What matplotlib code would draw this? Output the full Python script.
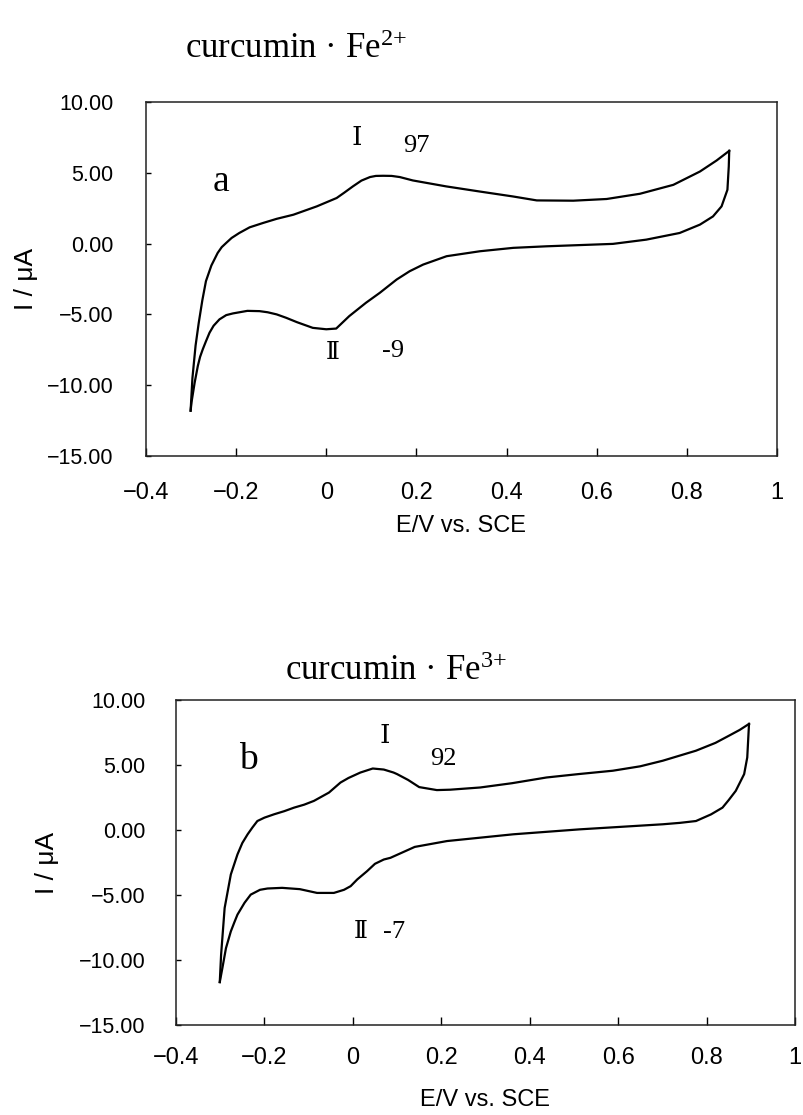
import matplotlib
matplotlib.use("Agg")
import matplotlib.pyplot as plt

plt.rcParams["mathtext.fontset"] = "custom"
plt.rcParams["mathtext.rm"] = "Liberation Serif"
plt.rcParams["mathtext.default"] = "rm"

# ---- cyclic voltammograms (E in V vs. SCE, I in uA) ----
# (a) curcumin-Fe2+ : forward (anodic) sweep then return sweep
a_fwd_E = [-0.301, -0.297, -0.290, -0.283, -0.275, -0.267, -0.255, -0.241, -0.232,
           -0.222, -0.210, -0.193, -0.170, -0.140, -0.110, -0.073, -0.021, 0.023,
           0.040, 0.059, 0.078, 0.097, 0.110, 0.126, 0.145, 0.163, 0.192, 0.266,
           0.340, 0.414, 0.467, 0.548, 0.622, 0.696, 0.770, 0.829, 0.866, 0.894]
a_fwd_I = [-11.8, -9.5, -7.2, -5.6, -4.0, -2.65, -1.55, -0.66, -0.25,
           0.05, 0.40, 0.75, 1.15, 1.46, 1.75, 2.04, 2.63, 3.22,
           3.60, 4.04, 4.45, 4.70, 4.78, 4.79, 4.78, 4.70, 4.46, 4.04,
           3.68, 3.33, 3.05, 3.03, 3.15, 3.52, 4.15, 5.09, 5.87, 6.55]
a_rev_E = [0.894, 0.893, 0.890, 0.877, 0.858, 0.829, 0.784, 0.710, 0.636, 0.489,
           0.415, 0.341, 0.267, 0.215, 0.185, 0.156, 0.119, 0.088, 0.051, 0.022,
           0.000, -0.030, -0.065, -0.089, -0.110, -0.130, -0.148, -0.175, -0.207,
           -0.222, -0.237, -0.250, -0.259, -0.267, -0.274, -0.280, -0.285, -0.292,
           -0.299, -0.301]
a_rev_I = [6.55, 5.45, 3.80, 2.63, 1.92, 1.34, 0.75, 0.28, -0.02, -0.19,
           -0.30, -0.54, -0.89, -1.48, -1.95, -2.54, -3.47, -4.18, -5.12, -6.00,
           -6.05, -5.95, -5.55, -5.24, -5.00, -4.85, -4.77, -4.75, -4.93,
           -5.05, -5.35, -5.80, -6.29, -6.90, -7.46, -8.00, -8.64, -9.81,
           -11.2, -11.8]

# (b) curcumin-Fe3+
b_fwd_E = [-0.301, -0.298, -0.290, -0.276, -0.261, -0.250, -0.238, -0.227, -0.216,
           -0.200, -0.178, -0.155, -0.133, -0.110, -0.088, -0.054, -0.028, -0.010,
           0.017, 0.045, 0.070, 0.092, 0.100, 0.125, 0.150, 0.190, 0.220, 0.288,
           0.360, 0.438, 0.510, 0.588, 0.650, 0.701, 0.776, 0.820, 0.851, 0.875,
           0.896]
b_fwd_I = [-11.7, -9.6, -6.0, -3.42, -1.88, -1.00, -0.33, 0.20, 0.69,
           0.95, 1.21, 1.45, 1.72, 1.95, 2.24, 2.88, 3.65, 4.00,
           4.42, 4.73, 4.65, 4.42, 4.30, 3.85, 3.30, 3.07, 3.10, 3.27,
           3.60, 4.04, 4.30, 4.56, 4.90, 5.33, 6.10, 6.70, 7.26, 7.70,
           8.16]
b_rev_E = [0.896, 0.892, 0.885, 0.866, 0.850, 0.836, 0.810, 0.776, 0.740, 0.701,
           0.513, 0.363, 0.213, 0.140, 0.085, 0.070, 0.050, 0.032, 0.010, -0.005,
           -0.020, -0.043, -0.081, -0.120, -0.160, -0.193, -0.210, -0.231, -0.245,
           -0.261, -0.268, -0.276, -0.287, -0.295, -0.301]
b_rev_I = [8.16, 5.58, 4.30, 3.01, 2.30, 1.72, 1.20, 0.69, 0.55, 0.44,
           0.05, -0.33, -0.85, -1.30, -2.14, -2.27, -2.60, -3.17, -3.80, -4.32,
           -4.60, -4.84, -4.84, -4.55, -4.45, -4.50, -4.60, -4.97, -5.60,
           -6.51, -7.10, -7.80, -9.09, -10.6, -11.7]

x_ticks = [-0.4, -0.2, 0, 0.2, 0.4, 0.6, 0.8, 1]
x_tick_labels = ["\u22120.4", "\u22120.2", "0", "0.2", "0.4", "0.6", "0.8", "1"]
y_ticks = [10, 5, 0, -5, -10, -15]
y_tick_labels = ["10.00", "5.00", "0.00", "\u22125.00", "\u221210.00", "\u221215.00"]

titles = ["curcumin \u00b7 Fe$^{2{+}}$", "curcumin \u00b7 Fe$^{3{+}}$"]
panel_letters = ["a", "b"]
peak_I_labels = ["\u2160", "\u2160"]
peak_II_labels = ["\u2161", "\u2161"]
peak_I_values = ["97", "92"]
peak_II_values = ["-9", "-7"]

SANS = ["Liberation Sans"]
SANS_N = ["Liberation Sans Narrow", "Liberation Sans"]
SERIF = ["Liberation Serif", "DejaVu Serif", "Noto Sans CJK JP"]

W, H = 804, 1115
fig = plt.figure(figsize=(W / 100, H / 100), dpi=100)
fig.patch.set_facecolor("white")


def px_axes(left, top, right, bottom):
    return [left / W, 1 - bottom / H, (right - left) / W, (bottom - top) / H]


ax_a = fig.add_axes(px_axes(146, 102, 777, 456))
ax_b = fig.add_axes(px_axes(176, 700, 795, 1025))

panels = [
    (ax_a, a_fwd_E, a_fwd_I, a_rev_E, a_rev_I),
    (ax_b, b_fwd_E, b_fwd_I, b_rev_E, b_rev_I),
]

# text anchors in data coordinates
letter_pos = [(-0.234, 4.4), (-0.237, 5.4)]
pI_pos = [(0.068, 7.4), (0.073, 7.15)]
pI_val_pos = [(0.199, 6.9), (0.204, 5.45)]
pII_pos = [(0.015, -7.75), (0.018, -7.85)]
pII_val_pos = [(0.148, -7.6), (0.093, -7.85)]
ypads = [23.5, 22.0]
xpads = [19.0, 15.5]
xlabel_y = [-0.198, -0.23]
ylabel_x = [-0.19, -0.208]

for i, (ax, fE, fI, rE, rI) in enumerate(panels):
    ax.plot(fE, fI, color="black", lw=1.6, solid_joinstyle="round")
    ax.plot(rE, rI, color="black", lw=1.6, solid_joinstyle="round")
    ax.set_xlim(-0.4, 1.0)
    ax.set_ylim(-15, 10)
    for s in ax.spines.values():
        s.set_linewidth(1.1)
        s.set_color("#222222")

    ax.set_xticks(x_ticks)
    ax.set_xticklabels(x_tick_labels, family=SANS_N, fontsize=17)
    ax.set_yticks(y_ticks)
    ax.set_yticklabels(y_tick_labels, family=SANS, fontsize=15.5)
    ax.tick_params(axis="x", direction="in", length=5.5, width=1.0, pad=xpads[i],
                   bottom=True, top=False)
    ax.tick_params(axis="y", direction="in", length=3.5, width=1.0, pad=ypads[i],
                   left=True, right=False)

    ax.set_xlabel("E/V vs. SCE", family=SANS, fontsize=17)
    ax.xaxis.set_label_coords(0.5, xlabel_y[i])
    ax.xaxis.label.set_va("center")
    ax.set_ylabel("I / \u03bcA", family=SANS, fontsize=19)
    ax.yaxis.set_label_coords(ylabel_x[i], 0.5)
    ax.yaxis.label.set_va("center")

    ax.text(*letter_pos[i], panel_letters[i], family=SERIF, fontsize=27,
            ha="center", va="center")
    ax.text(*pI_pos[i], peak_I_labels[i], family=SERIF, fontsize=19,
            ha="center", va="center")
    ax.text(*pI_val_pos[i], peak_I_values[i], family=SERIF, fontsize=19,
            ha="center", va="center")
    ax.text(*pII_pos[i], peak_II_labels[i], family=SERIF, fontsize=17,
            ha="center", va="center")
    ax.text(*pII_val_pos[i], peak_II_values[i], family=SERIF, fontsize=19,
            ha="center", va="center")

fig.text(185 / W, 1 - 49 / H, titles[0], family=SERIF, fontsize=25,
         ha="left", va="center")
fig.text(285 / W, 1 - 672 / H, titles[1], family=SERIF, fontsize=25,
         ha="left", va="center")

fig.savefig("out.png", dpi=100, facecolor="white")
